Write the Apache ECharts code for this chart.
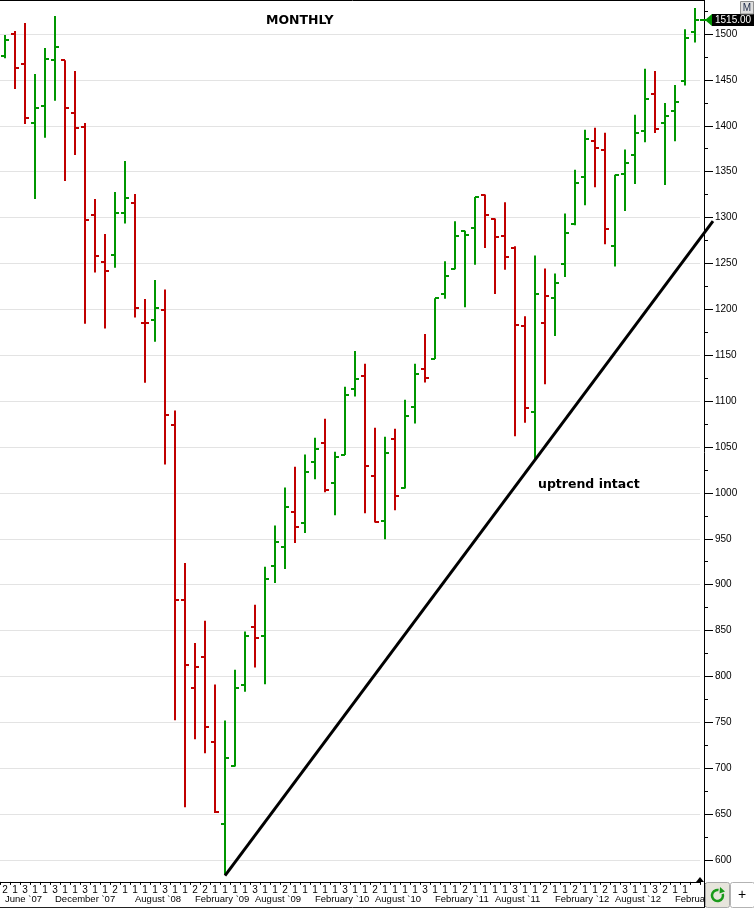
<!DOCTYPE html>
<html>
<head>
<meta charset="utf-8">
<title>MONTHLY</title>
<script src="https://cdn.jsdelivr.net/npm/echarts@6/dist/echarts.min.js"></script>
<style>
    html, body { margin: 0; padding: 0; background: #ffffff; }
    #chart { width: 754px; height: 911px; }
</style>
</head>
<body>
<div id="chart"></div>
<script>
// monthly bars, May '07 .. Feb '13
var opens  = [1476.4, 1500.3, 1467.6, 1403.4, 1421.9, 1471.7, 1471.4, 1413.9, 1399.0, 1303.2,
              1252.0, 1259.6, 1305.3, 1316.2, 1185.5, 1188.8, 1199.6, 1074.3, 883.1, 787.8,
              820.7, 729.1, 639.1, 702.8, 791.1, 853.6, 844.4, 920.0, 940.6, 979.0,
              967.0, 1034.1, 1054.0, 1011.2, 1041.7, 1112.7, 1127.9, 1018.1, 969.9, 1058.3,
              1005.1, 1093.1, 1135.5, 1146.0, 1216.7, 1244.2, 1285.5, 1288.4, 1325.0, 1298.6,
              1280.1, 1266.7, 1181.5, 1088.0, 1185.1, 1212.0, 1249.3, 1293.5, 1343.8, 1383.0,
              1373.2, 1268.8, 1347.3, 1367.9, 1394.0, 1434.2, 1403.4, 1415.7, 1448.3, 1502.2];
var highs  = [1498.9, 1503.3, 1512.0, 1456.4, 1484.7, 1519.6, 1471.4, 1459.7, 1403.0, 1320.3,
              1282.1, 1327.9, 1361.7, 1325.7, 1211.3, 1232.0, 1221.7, 1089.7, 923.5, 836.5,
              860.6, 791.1, 752.0, 807.3, 849.0, 878.1, 919.4, 964.5, 1005.8, 1028.6,
              1041.7, 1060.1, 1080.8, 1044.9, 1115.6, 1154.7, 1140.6, 1071.0, 1061.2, 1069.9,
              1101.4, 1140.6, 1173.2, 1212.0, 1252.5, 1296.0, 1285.5, 1322.5, 1325.0, 1298.9,
              1316.7, 1268.8, 1192.4, 1258.7, 1244.6, 1239.1, 1304.3, 1352.2, 1395.7, 1397.8,
              1392.4, 1346.6, 1374.1, 1412.1, 1462.0, 1459.8, 1424.7, 1444.3, 1505.1, 1528.2];
var lows   = [1473.5, 1440.1, 1402.0, 1320.3, 1387.0, 1427.3, 1339.9, 1368.2, 1184.4, 1240.0,
              1179.0, 1245.4, 1293.4, 1191.0, 1120.0, 1164.8, 1031.0, 752.4, 657.4, 731.6,
              716.2, 651.2, 584.2, 702.0, 783.2, 809.8, 791.5, 901.8, 917.0, 945.3,
              956.2, 1014.9, 1000.7, 975.7, 1041.3, 1105.1, 977.9, 967.8, 949.6, 981.2,
              1004.7, 1075.7, 1120.3, 1146.0, 1211.6, 1243.8, 1202.2, 1248.6, 1266.7, 1216.7,
              1243.1, 1061.6, 1076.4, 1037.0, 1118.5, 1171.0, 1235.1, 1291.7, 1313.4, 1333.0,
              1271.0, 1246.7, 1307.2, 1336.5, 1382.1, 1392.2, 1335.4, 1383.1, 1443.9, 1490.6];
var closes = [1493.8, 1463.0, 1408.5, 1419.7, 1472.8, 1486.2, 1419.7, 1397.9, 1297.7, 1258.5,
              1242.2, 1305.3, 1321.7, 1201.9, 1185.0, 1201.9, 1085.1, 883.5, 812.8, 809.8,
              744.9, 652.0, 711.6, 787.0, 843.6, 842.3, 906.4, 946.4, 984.4, 962.3,
              1023.2, 1047.5, 1003.6, 1039.5, 1106.9, 1124.6, 1029.7, 967.8, 1043.8, 996.4,
              1083.3, 1129.0, 1125.4, 1212.0, 1236.2, 1279.7, 1280.5, 1322.5, 1302.9, 1278.6,
              1256.9, 1183.0, 1092.8, 1216.7, 1214.1, 1228.6, 1283.0, 1337.7, 1385.1, 1375.4,
              1287.7, 1346.2, 1359.3, 1391.8, 1429.1, 1396.2, 1410.3, 1425.5, 1496.0, 1515.0];

// small numbers under each bar
var countLabels = ['2','1','3','1','1','3','1','1','3','1','1','2','1','1','1','1','3','1','1','2',
                   '2','1','1','1','1','3','1','1','2','1','1','1','1','1','3','1','1','2','1','1',
                   '1','1','3','1','1','1','2','1','1','1','1','3','1','1','2','1','1','2','1','1',
                   '2','1','3','1','1','3','2','1','1',''];

// month captions and the bar each belongs to
var monthBars  = [1, 7, 15, 21, 27, 33, 39, 45, 51, 57, 63, 69];
var monthNames = ['June `07', 'December `07', 'August `08', 'February `09', 'August `09', 'February `10',
                  'August `10', 'February `11', 'August `11', 'February `12', 'August `12', 'February `13'];

// trend line: from the 2009 low through the 2011 low
var trendLine = [22, 583, 53, 1036];
var trendEnd = 70.8;

var UP = '#009600', DOWN = '#c00000';
var LABEL_FONT = 'Liberation Sans';

var barIndex = [];
var ohlcData = [];
for (var i = 0; i < opens.length; i++) {
    barIndex.push(String(i));
    var up = i === 0 || closes[i] >= closes[i - 1] ? 1 : 0;
    ohlcData.push([i, opens[i], highs[i], lows[i], closes[i], up]);
}

var monthAt = {};
monthBars.forEach(function (b, j) { monthAt[Math.max(0, b - 2)] = monthNames[j]; });

function renderBar(params, api) {
    var i = api.value(0);
    var x = Math.round(api.coord([i, 1000])[0]);
    var yo = Math.round(api.coord([i, api.value(1)])[1]);
    var yh = api.coord([i, api.value(2)])[1];
    var yl = api.coord([i, api.value(3)])[1];
    var yc = Math.round(api.coord([i, api.value(4)])[1]);
    var st = { stroke: api.value(5) ? UP : DOWN, lineWidth: 2 };
    return {
        type: 'group',
        children: [
            { type: 'line', shape: { x1: x, y1: yh, x2: x, y2: yl }, style: st },
            { type: 'line', shape: { x1: x - 4, y1: yo, x2: x, y2: yo }, style: st },
            { type: 'line', shape: { x1: x, y1: yc, x2: x + 4, y2: yc }, style: st }
        ]
    };
}

function renderTrend(params, api) {
    var p1 = api.coord([api.value(0), api.value(1)]);
    var p2 = api.coord([api.value(2), api.value(3)]);
    var band = api.size([1, 0])[0];
    var last = opens.length - 1;
    var endX = api.coord([last, 1000])[0] + (trendEnd - last) * band;
    var slope = (p2[1] - p1[1]) / (p2[0] - p1[0]);
    return {
        type: 'line',
        shape: { x1: p1[0], y1: p1[1], x2: endX, y2: p1[1] + slope * (endX - p1[0]) },
        style: { stroke: '#000', lineWidth: 3 }
    };
}

function renderLast(params, api) {
    var cs = params.coordSys;
    var y = Math.round(api.coord([api.value(0), api.value(1)])[1]);
    var ax = cs.x + cs.width + 4;
    var bottom = cs.y + cs.height - 24;
    return {
        type: 'group',
        children: [
            { type: 'line', shape: { x1: ax - 4, y1: y, x2: ax + 2, y2: y }, style: { stroke: UP, lineWidth: 2 } },
            { type: 'polygon', shape: { points: [[ax + 1, y], [ax + 8, y - 6], [ax + 8, y + 6]] }, style: { fill: UP } },
            { type: 'rect', shape: { x: ax + 8, y: y - 6, width: 50, height: 12 }, style: { fill: '#000' } },
            { type: 'text', style: { x: ax + 11, y: y, text: api.value(1).toFixed(2), fill: '#fff',
                font: '10px "Liberation Sans"', verticalAlign: 'middle' } },
            { type: 'polygon', shape: { points: [[ax - 4, bottom - 5], [ax - 8, bottom], [ax, bottom]] }, style: { fill: '#000' } }
        ]
    };
}

var chart = echarts.init(document.getElementById('chart'));

var option = {
    animation: false,
    backgroundColor: '#ffffff',
    title: {
        text: 'MONTHLY',
        left: 266,
        top: 14,
        padding: 0,
        textStyle: { fontFamily: 'DejaVu Sans', fontWeight: 'bold', fontSize: 12.5, color: '#000' }
    },
    grid: {
        left: 0,
        top: -11.9,
        width: 700,
        height: 917.8,
        containLabel: false,
        outerBoundsMode: 'none'
    },
    xAxis: [
        {
            type: 'category',
            position: 'bottom',
            offset: -24,
            data: barIndex,
            boundaryGap: true,
            axisLine: { onZero: false, lineStyle: { color: '#000', width: 1 } },
            axisTick: { show: true, length: 3, lineStyle: { color: '#000' } },
            axisLabel: {
                interval: 0,
                margin: 3,
                fontFamily: LABEL_FONT,
                fontSize: 10,
                lineHeight: 10,
                color: '#000',
                formatter: function (v, idx) { return countLabels[idx]; }
            },
            splitLine: { show: false }
        },
        {
            type: 'category',
            position: 'bottom',
            offset: -24,
            data: barIndex,
            boundaryGap: true,
            axisLine: { show: false, onZero: false },
            axisTick: { show: false },
            axisLabel: {
                interval: 0,
                margin: 12,
                align: 'left',
                fontFamily: LABEL_FONT,
                fontSize: 9.5,
                lineHeight: 10,
                color: '#000',
                formatter: function (v, idx) { return monthAt[idx] || ''; }
            },
            splitLine: { show: false }
        }
    ],
    yAxis: {
        type: 'value',
        position: 'right',
        offset: 4,
        min: 550,
        max: 1550,
        interval: 50,
        axisLine: { show: true, lineStyle: { color: '#000', width: 1 } },
        axisTick: { show: true, length: 9, lineStyle: { color: '#000' } },
        minorTick: { show: true, splitNumber: 2, length: 4, lineStyle: { color: '#000' } },
        axisLabel: {
            margin: 11,
            fontFamily: LABEL_FONT,
            fontSize: 10,
            color: '#000',
            verticalAlign: 'middle',
            padding: [0, 0, 7, 0],
            showMinLabel: false,
            showMaxLabel: false,
            formatter: function (v) { return String(v); }
        },
        splitLine: { show: true, showMinLine: false, showMaxLine: false, lineStyle: { color: '#e3e3e3', width: 1 } }
    },
    series: [
        {
            name: 'trend',
            type: 'custom',
            renderItem: renderTrend,
            data: [trendLine],
            encode: { x: 0, y: 1 },
            silent: true,
            z: 3
        },
        {
            name: 'ohlc',
            type: 'custom',
            renderItem: renderBar,
            data: ohlcData,
            encode: { x: 0, y: [1, 2, 3, 4] },
            z: 2
        },
        {
            name: 'last',
            type: 'custom',
            renderItem: renderLast,
            data: [[opens.length - 1, closes[closes.length - 1]]],
            encode: { x: 0, y: 1 },
            silent: true,
            z: 5
        }
    ],
    graphic: {
        elements: [
            { type: 'line', z: 100, shape: { x1: 0, y1: 0.5, x2: 705, y2: 0.5 }, style: { stroke: '#000', lineWidth: 1 } },
            { type: 'line', z: 100, shape: { x1: 0, y1: 907.5, x2: 705, y2: 907.5 }, style: { stroke: '#222', lineWidth: 1 } },
            { type: 'text', z: 100, left: 538, top: 478,
              style: { text: 'uptrend intact', font: 'bold 12.5px "DejaVu Sans"', fill: '#000' } },
            { type: 'rect', z: 100, shape: { x: 740.5, y: 1.5, width: 13, height: 12.5 },
              style: { fill: '#dedede', stroke: '#8e8e8e', lineWidth: 1 } },
            { type: 'text', z: 101, style: { x: 747, y: 8, text: 'M', font: '10px "Liberation Sans"',
              fill: '#1e2a48', align: 'center', verticalAlign: 'middle' } },
            { type: 'rect', z: 100, shape: { x: 705.5, y: 882.5, width: 24, height: 25, r: 2 },
              style: { fill: '#e7e5dc', stroke: '#a9a9a9', lineWidth: 1 } },
            { type: 'arc', z: 101, shape: { cx: 717.5, cy: 895.5, r: 5.5, startAngle: -0.3, endAngle: 4.9 },
              style: { stroke: '#1a9a1a', lineWidth: 2.5, fill: null } },
            { type: 'polygon', z: 101, shape: { points: [[720, 887], [725, 891.5], [719.5, 893.5]] },
              style: { fill: '#1a9a1a' } },
            { type: 'rect', z: 100, shape: { x: 730.5, y: 882.5, width: 24, height: 25, r: 2 },
              style: { fill: '#ffffff', stroke: '#b3b3b3', lineWidth: 1 } },
            { type: 'text', z: 101, style: { x: 742, y: 895, text: '+', font: '14px "Liberation Sans"',
              fill: '#000', align: 'center', verticalAlign: 'middle' } }
        ]
    }
};

chart.setOption(option);
</script>
</body>
</html>
